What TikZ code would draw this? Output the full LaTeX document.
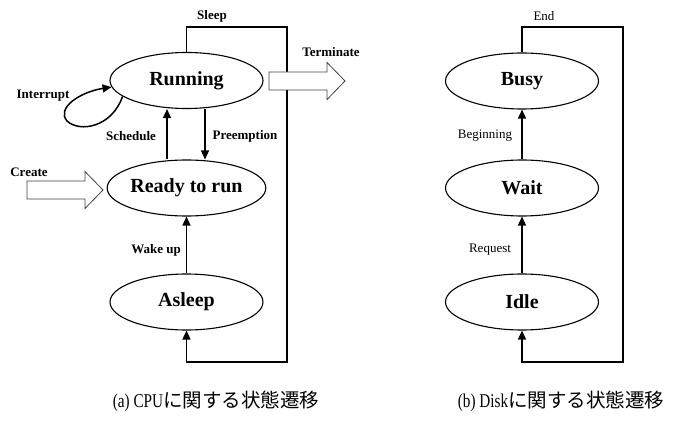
\documentclass[tikz,border=0pt]{standalone}
\usepackage{fontspec}
\usepackage{graphicx}
\setmainfont{Liberation Serif}
\newfontfamily\jpfont{Noto Sans CJK JP}
\usetikzlibrary{arrows.meta,shapes.geometric}
\tikzset{
  state/.style={draw, ellipse, line width=1.1pt, minimum width=153pt, minimum height=56pt,
    inner sep=0pt, font=\fontsize{20}{24}\selectfont\bfseries},
  lbl/.style={font=\fontsize{13}{15}\selectfont\bfseries},
  lightlbl/.style={font=\fontsize{13}{15}\selectfont},
  trans/.style={line width=1.5pt, -{Triangle[length=9pt,width=8pt]}},
  caption/.style={font=\fontsize{19.5}{22}\selectfont},
  blockarrow/.pic={
    \draw[draw=black!75, fill=white, line width=0.8pt]
      (0,0) -- ++(-18,-18.5) -- ++(0,9.5) -- ++(-58,0) -- ++(0,18)
      -- ++(58,0) -- ++(0,9.5) -- cycle;
  },
}
\begin{document}
\begin{tikzpicture}[x=1pt,y=-1pt]
  \useasboundingbox (0,0) rectangle (674,430);
  % (a) CPU
  \node[state] (running) at (186.5,80.5) {Running};
  \node[state] (ready) at (186.5,188) {Ready to run};
  \node[state] (asleep) at (186.5,302) {Asleep};
  \coordinate (sleeptop) at (287,27);
  \coordinate (sleepbot) at (287,362);
  \draw[trans] (running.north) |- (sleeptop) -- (sleepbot) -| (asleep.south);
  \draw[trans] ([xshift=-19.5pt]ready.north) -- ([xshift=-19.5pt]running.south);
  \draw[trans] ([xshift=18.5pt]running.south) -- ([xshift=18.5pt]ready.north);
  \draw[trans] (asleep.north) -- (ready.south);
  \draw[trans] (running.194) .. controls (112,127) and (80,133) .. (67,121)
    .. controls (56,108) and (80,92) .. (running.185);
  \coordinate (termtip) at (345,81);
  \coordinate (createtip) at (103,190);
  \pic at (termtip) {blockarrow};
  \pic at (createtip) {blockarrow};
  \node[lbl] (sleeplbl) at (212,16) {Sleep};
  \node[lbl] (termlbl) at (331,52) {Terminate};
  \node[lbl] (intlbl) at (43,96) {Interrupt};
  \node[lbl] (schedlbl) at (131,136) {Schedule};
  \node[lbl] (preemptlbl) at (245,136) {Preemption};
  \node[lbl] (createlbl) at (29,172) {Create};
  \node[lbl] (wakelbl) at (156,250) {Wake up};
  % (b) Disk
  \node[state] (busy) at (522,81) {Busy};
  \node[state] (wait) at (522,188) {Wait};
  \node[state] (idle) at (522,302) {Idle};
  \coordinate (endtop) at (623,27);
  \coordinate (endbot) at (623,362);
  \draw[trans] (busy.north) |- (endtop) -- (endbot) -| (idle.south);
  \draw[trans] (wait.north) -- (busy.south);
  \draw[trans] (idle.north) -- (wait.south);
  \node[lightlbl] (endlbl) at (544,16) {End};
  \node[lightlbl] (beginlbl) at (485,136) {Beginning};
  \node[lightlbl] (reqlbl) at (490,250) {Request};
  % captions
  \node[caption] (capa) at (216,401) {\scalebox{0.78}[1]{(a) CPU}{\jpfont に関する状態遷移}};
  \node[caption] (capb) at (561,401) {\scalebox{0.78}[1]{(b) Disk}{\jpfont に関する状態遷移}};
\end{tikzpicture}
\end{document}
